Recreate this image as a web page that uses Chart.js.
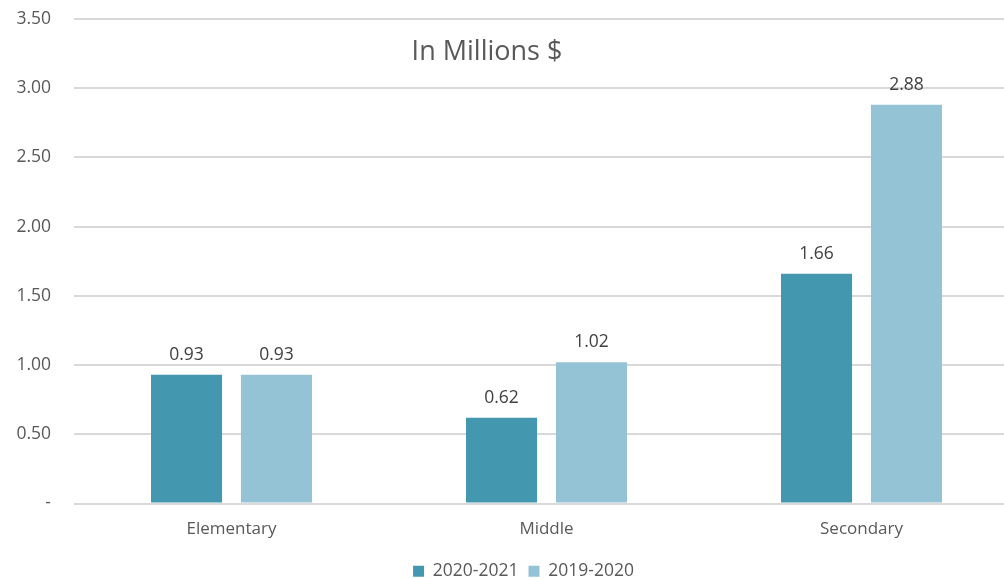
<!DOCTYPE html>
<html>
<head>
<meta charset="utf-8">
<script src="https://cdn.jsdelivr.net/npm/chart.js@4"></script>
<style>
  html, body { margin: 0; padding: 0; background: #fff; overflow: hidden; }
  #wrap { position: relative; width: 1030px; height: 579px; }
  #sub { position: absolute; left: 0; width: 974px; top: 31px; text-align: center;
         font-family: "Open Sans", sans-serif; font-size: 27px; color: #595959; }
</style>
</head>
<body>
<div id="wrap">
  <canvas id="chart" width="1030" height="579"></canvas>
  <div id="sub">In Millions $</div>
</div>
<script>
const categories = ['Elementary', 'Middle', 'Secondary'];
const series2021 = [0.93, 0.62, 1.66];
const series2020 = [0.93, 1.02, 2.88];
const seriesNames = ['2020-2021', '2019-2020'];
const yTicks = [0, 0.5, 1, 1.5, 2, 2.5, 3, 3.5];

// подписи значений над столбиками
const valueLabels = {
    id: 'valueLabels',
    afterDatasetsDraw(chart) {
        const ctx = chart.ctx;
        ctx.save();
        ctx.font = '17.5px "Open Sans", sans-serif';
        ctx.fillStyle = '#404040';
        ctx.textAlign = 'center';
        ctx.textBaseline = 'middle';
        chart.data.datasets.forEach((ds, i) => {
            chart.getDatasetMeta(i).data.forEach((bar, j) => {
                ctx.fillText(ds.data[j].toFixed(2), bar.x, bar.y - 20);
            });
        });
        ctx.restore();
    }
};

// легенда немного правее центра, как в оригинале
const shiftLegend = {
    id: 'shiftLegend',
    afterLayout(chart) {
        if (chart.legend) {
            chart.legend.left += 14;
            chart.legend.right += 14;
        }
    }
};

const ctx = document.getElementById('chart');
new Chart(ctx, {
    type: 'bar',
    data: {
        labels: categories,
        datasets: [
            { label: seriesNames[0], data: series2021, backgroundColor: '#4397AE' },
            { label: seriesNames[1], data: series2020, backgroundColor: '#93C3D4' }
        ]
    },
    options: {
        responsive: false,
        maintainAspectRatio: false,
        animation: false,
        devicePixelRatio: 1,
        layout: { padding: { top: 19, right: 11, left: 0, bottom: -11 } },
        datasets: { bar: { categoryPercentage: 0.571, barPercentage: 0.79 } },
        plugins: {
            legend: {
                position: 'bottom',
                labels: {
                    boxWidth: 11, boxHeight: 11, padding: 10,
                    color: '#595959',
                    font: { family: '"Open Sans", sans-serif', size: 17.5 }
                }
            },
            tooltip: { enabled: false }
        },
        scales: {
            x: {
                grid: { display: false, drawTicks: false },
                border: { display: false },
                ticks: { color: '#595959', padding: 15, maxRotation: 0, font: { family: '"Open Sans", sans-serif', size: 17 } },
                afterFit: s => { s.height = 49; s.paddingTop = 0; }
            },
            y: {
                min: 0, max: 3.5,
                afterBuildTicks: s => { s.ticks = yTicks.map(v => ({ value: v })); },
                afterFit: s => { s.width = 74; s.paddingTop = 0; s.paddingBottom = 0; },
                grid: { color: '#D9D9D9', lineWidth: 2, drawTicks: false },
                border: { display: false },
                ticks: {
                    color: '#595959', padding: 23,
                    font: { family: '"Open Sans", sans-serif', size: 17.5 },
                    callback: v => v === 0 ? '-' : v.toFixed(2)
                }
            }
        }
    },
    plugins: [valueLabels, shiftLegend]
});
</script>
</body>
</html>
